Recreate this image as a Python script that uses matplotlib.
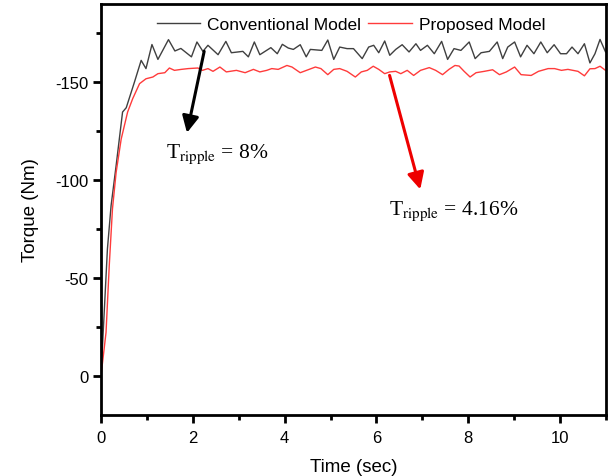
import matplotlib
matplotlib.use("Agg")
import matplotlib.pyplot as plt
from matplotlib.ticker import MultipleLocator

plt.rcParams['font.family'] = ['Liberation Sans', 'DejaVu Sans']
plt.rcParams['mathtext.fontset'] = 'stix'

# --- data ---
t_conv = [0, 0.14, 0.22, 0.33, 0.47, 0.55, 0.73, 0.875, 0.98, 1.11, 1.24, 1.47,
          1.61, 1.74, 1.97, 2.09, 2.22, 2.33, 2.55, 2.72, 2.84, 3.09, 3.21, 3.34,
          3.46, 3.7, 3.84, 3.95, 4.08, 4.19, 4.34, 4.47, 4.56, 4.81, 4.94, 5.07,
          5.2, 5.36, 5.5, 5.69, 5.83, 5.94, 6.05, 6.18, 6.29, 6.42, 6.56, 6.71,
          6.86, 6.96, 7.11, 7.26, 7.42, 7.55, 7.69, 7.84, 8.02, 8.15, 8.28, 8.46,
          8.63, 8.75, 8.86, 9.01, 9.14, 9.28, 9.43, 9.58, 9.72, 9.87, 10.01, 10.14,
          10.26, 10.39, 10.53, 10.65, 10.76, 10.87, 10.99]
torque_conv = [0, -64.8, -87, -107.5, -134.8, -137, -150.2, -161.2, -157, -169.3,
               -161.7, -171.8, -166, -167.3, -163, -170.6, -165.8, -168.9, -164.1,
               -170.9, -165.1, -165.8, -163, -170.6, -164.1, -167.7, -164.6, -169.4,
               -167.5, -166.8, -169.2, -163, -166.8, -166.3, -171.6, -161.7, -168,
               -167.2, -167.2, -162.1, -168, -168.9, -165.1, -171.1, -163.8, -166.8,
               -169.2, -165.5, -169.7, -166.3, -168.9, -164.6, -170.9, -161.7, -167.2,
               -166.3, -170.6, -162.1, -165.1, -165.8, -170.6, -162.1, -168, -170.6,
               -163, -168.9, -164.6, -170.6, -165.1, -169.2, -164.6, -164.6, -168,
               -164.6, -169.7, -159.9, -164.6, -171.9, -165.5]

t_prop = [0, 0.11, 0.18, 0.25, 0.33, 0.44, 0.58, 0.69, 0.84, 0.98, 1.13, 1.24,
          1.39, 1.49, 1.6, 1.75, 1.9, 2.11, 2.21, 2.33, 2.44, 2.59, 2.73, 2.95,
          3.14, 3.32, 3.46, 3.61, 3.72, 3.86, 4.05, 4.16, 4.34, 4.67, 4.79, 4.94,
          5.07, 5.2, 5.36, 5.54, 5.67, 5.8, 5.93, 6.05, 6.18, 6.29, 6.42, 6.53,
          6.67, 6.81, 6.96, 7.15, 7.29, 7.44, 7.58, 7.71, 7.8, 7.91, 8.04, 8.17,
          8.35, 8.53, 8.68, 8.83, 9.01, 9.15, 9.37, 9.53, 9.74, 9.88, 10.03, 10.17,
          10.39, 10.53, 10.65, 10.76, 10.87, 10.99]
torque_prop = [0, -22.2, -56.3, -85.3, -104, -121, -134.8, -141.6, -149.3, -151.8,
               -152.7, -154.4, -154.9, -157.3, -156.1, -156.6, -157, -157.3, -156.1,
               -157, -155.6, -157.8, -155.3, -156.1, -154.9, -156.6, -155.3, -156.1,
               -157, -156.6, -158.6, -157.8, -154.9, -157.8, -157, -153.9, -156.6,
               -157, -155.6, -152.7, -155.3, -156.1, -158.2, -156.6, -154.4, -155.3,
               -155.6, -154.4, -156.1, -153.5, -156.1, -157.5, -156.1, -153.9, -156.6,
               -158.6, -158.3, -155.6, -152.7, -154.9, -155.6, -156.4, -153.9, -155.3,
               -157.8, -153.9, -153.5, -155.6, -157, -157, -156.1, -156.6, -155.6,
               -153.3, -156.9, -157, -158.2, -156.1]

fig = plt.figure(figsize=(6.08, 4.77), dpi=100)
ax = fig.add_axes([0.1661, 0.1279, 0.8306, 0.8616])

ax.plot(t_conv, torque_conv, color='#404040', lw=1.0, label='Conventional Model')
ax.plot(t_prop, torque_prop, color='#ff3b3b', lw=1.0, label='Proposed Model')

ax.set_xlim(0, 11)
ax.set_ylim(20, -190)

ax.xaxis.set_major_locator(MultipleLocator(2))
ax.xaxis.set_minor_locator(MultipleLocator(1))
ax.yaxis.set_major_locator(MultipleLocator(50))
ax.yaxis.set_minor_locator(MultipleLocator(25))
ax.set_yticks([0, -50, -100, -150])
ax.set_yticklabels(['0', '-50', '-100', '-150'])

for s in ax.spines.values():
    s.set_linewidth(2)
ax.tick_params(which='major', direction='out', length=6, width=2, labelsize=12)
ax.tick_params(axis='x', which='major', pad=5)
ax.tick_params(axis='y', which='major', pad=3)
ax.tick_params(which='minor', direction='out', length=3.5, width=2)

ax.set_xlabel('Time (sec)', fontsize=13.5, labelpad=9)
ax.set_ylabel('Torque (Nm)', fontsize=13.5, labelpad=12)

ax.legend(loc='upper center', bbox_to_anchor=(0.495, 1.007), ncol=2, frameon=False,
          fontsize=12.5, handlelength=2.5, handletextpad=0.4, columnspacing=0.4)

# ripple annotations
ax.annotate('', xy=(1.86, -122.8), xytext=(2.26, -167.2),
            arrowprops=dict(arrowstyle='-|>', color='black', lw=2.2, mutation_scale=25))
ax.annotate('', xy=(6.97, -93.9), xytext=(6.27, -154.9),
            arrowprops=dict(arrowstyle='-|>', color='#ee0000', lw=2.2, mutation_scale=25))
ax.text(1.41, -113.5, r'T$_{\mathrm{ripple}}$ = 8%', fontsize=15.5,
        family='Liberation Serif', va='center', ha='left')
ax.text(6.27, -84.8, r'T$_{\mathrm{ripple}}$ = 4.16%', fontsize=15.5,
        family='Liberation Serif', va='center', ha='left')

fig.savefig('out.png', dpi=100)
